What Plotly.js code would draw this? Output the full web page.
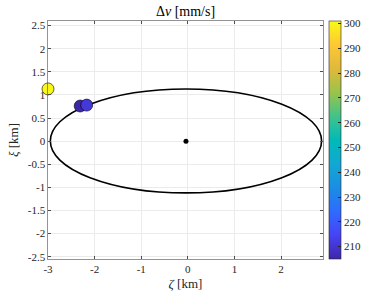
<!DOCTYPE html>
<html><head><meta charset="utf-8">
<script src="https://cdn.plot.ly/plotly-3.0.1.min.js"></script>
<style>html,body{margin:0;padding:0;background:#fff}#c{width:390px;height:293px}</style>
</head><body><div id="c"></div>
<script>
// data
const ptZeta = [-3.0, -2.31, -2.17];
const ptXi = [1.13, 0.76, 0.78];
const ptDv = [300, 205, 211];
const centerZeta = [-0.04];
const centerXi = [0];
const ellipseZeta = [-2.95, 2.87];
const ellipseXi = [-1.12, 1.13];
const xTicks = [-3, -2, -1, 0, 1, 2];
const xTickText = ['-3', '-2', '-1', '0', '1', '2'];
const yTicks = [-2.5, -2, -1.5, -1, -0.5, 0, 0.5, 1, 1.5, 2, 2.5];
const yTickText = ['-2.5', '-2', '-1.5', '-1', '-0.5', '0', '0.5', '1', '1.5', '2', '2.5'];
const cTicks = [210, 220, 230, 240, 250, 260, 270, 280, 290, 300];

const parula = [
 [0.0, '#3e26a8'], [0.1, '#4743f5'], [0.2, '#2f6bff'], [0.3, '#1b8ee3'],
 [0.4, '#12a8d1'], [0.5, '#00bab8'], [0.6, '#42c38a'], [0.7, '#9bc34a'],
 [0.8, '#e0b93b'], [0.9, '#fec735'], [1.0, '#f9fb15']
];

const FAM = 'Liberation Serif';
const font = {family: FAM, size: 11, color: '#262626'};

const traces = [
 {x: centerZeta, y: centerXi, type: 'scatter', mode: 'markers',
  marker: {color: '#000', size: 5}, hoverinfo: 'skip', showlegend: false},
 {x: ptZeta, y: ptXi, type: 'scatter', mode: 'markers', cliponaxis: false,
  marker: {color: ptDv, colorscale: parula, cmin: 205, cmax: 301, size: 12,
   line: {color: '#000', width: 0.6},
   colorbar: {x: (330 - 47.5) / 276, xanchor: 'left',
    y: 0, yanchor: 'bottom', len: 1, lenmode: 'fraction', thickness: 12,
    thicknessmode: 'pixels', xpad: 0, ypad: 0, outlinewidth: 0.6, outlinecolor: '#262626',
    tickvals: cTicks, ticks: 'inside', ticklen: 3, tickcolor: '#262626',
    tickfont: {family: FAM, size: 11, color: '#262626'}}},
  showlegend: false}
];

const axisCommon = {showgrid: true, gridcolor: '#ebebeb', gridwidth: 1, zeroline: false,
 showline: true, linecolor: '#4d4d4d', linewidth: 0.6, mirror: 'ticks', ticks: 'inside',
 ticklen: 3, tickcolor: '#4d4d4d', tickfont: font};

const layout = {
 width: 390, height: 293,
 margin: {l: 47.5, r: 66.5, t: 21, b: 34},
 paper_bgcolor: '#fff', plot_bgcolor: '#fff',
 title: {text: 'Δ<i>v</i> [mm/s]', font: {family: FAM, size: 14, color: '#000'},
  x: 185.5/390, xanchor: 'center', xref: 'container', y: 282/293, yanchor: 'middle'},
 xaxis: Object.assign({}, axisCommon, {range: [-3, 2.9], tickvals: xTicks, ticktext: xTickText,
  title: {text: '<i>ζ</i> [km]', font: {family: FAM, size: 13, color: '#262626'}, standoff: 4}}),
 yaxis: Object.assign({}, axisCommon, {range: [-2.55, 2.6], tickvals: yTicks, ticktext: yTickText,
  title: {text: '<i>ξ</i> [km]', font: {family: FAM, size: 13, color: '#262626'}, standoff: 6}}),
 shapes: [{type: 'circle', xref: 'x', yref: 'y', x0: ellipseZeta[0], x1: ellipseZeta[1],
  y0: ellipseXi[0], y1: ellipseXi[1], line: {color: '#000', width: 1.6}, layer: 'between'}]
};

Plotly.newPlot('c', traces, layout, {displayModeBar: false, staticPlot: true});
</script></body></html>
